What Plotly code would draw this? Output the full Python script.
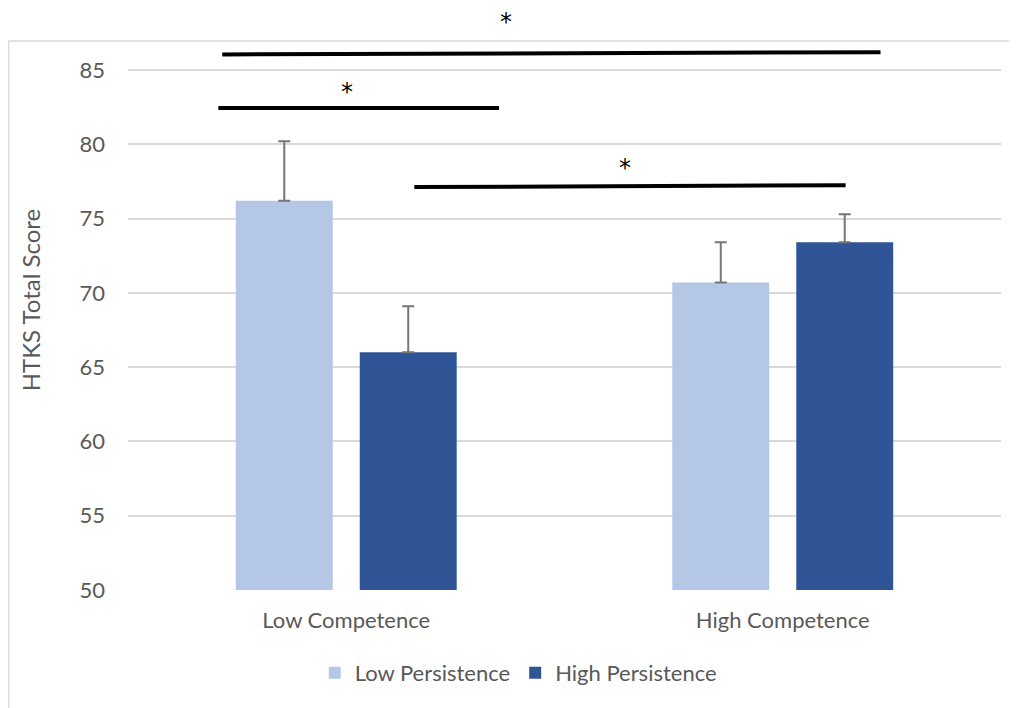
import plotly.graph_objects as go

categories = ["Low Competence", "High Competence"]
series_names = ["Low Persistence", "High Persistence"]
low_persistence = [76.2, 70.7]
high_persistence = [66.0, 73.4]
low_persistence_err = [4.0, 2.7]
high_persistence_err = [3.1, 1.9]
colors = ["#b4c7e7", "#2f5597"]

# significance brackets: (x0, x1, y0, y1) in category units / score units
sig_lines = [(-0.284, 1.224, 86.05, 86.2), (-0.293, 0.350, 82.45, 82.45), (0.156, 1.144, 77.12, 77.25)]
sig_stars = [(0.366, 88.2), (0.002, 83.5), (0.638, 78.4)]

FONT = "Lato"
GREY = "#595959"

fig = go.Figure()
for name, vals, errs, col in zip(series_names, [low_persistence, high_persistence],
                                 [low_persistence_err, high_persistence_err], colors):
    fig.add_trace(go.Bar(
        x=[0, 1], y=vals, name=name, marker=dict(color=col, line=dict(width=0)),
        error_y=dict(type="data", array=errs, symmetric=False, arrayminus=[0, 0],
                     color="#767676", thickness=2, width=6),
    ))

for x0, x1, y0, y1 in sig_lines:
    fig.add_shape(type="line", xref="x", yref="y", x0=x0, x1=x1, y0=y0, y1=y1,
                  line=dict(color="black", width=4))
for x, y in sig_stars:
    fig.add_annotation(x=x, y=y, xref="x", yref="y", text="*", showarrow=False,
                       font=dict(family="DejaVu Sans", size=24, color="black"))

# chart-area border
fig.add_shape(type="rect", xref="paper", yref="paper", x0=-0.1369, x1=1.2, y0=-0.5, y1=0.9466,
              line=dict(color="#d9d9d9", width=1.5), fillcolor="rgba(0,0,0,0)", layer="below")

fig.update_layout(
    width=1017, height=708,
    margin=dict(l=120, r=24, t=2, b=126, autoexpand=False),
    plot_bgcolor="white", paper_bgcolor="white",
    barmode="group", bargap=0.432, bargroupgap=0.218,
    font=dict(family=FONT, color=GREY, size=22),
    showlegend=True,
    legend=dict(orientation="h", x=0.447, xanchor="center", y=-0.143, yanchor="middle",
                font=dict(size=22, color=GREY), itemwidth=30, traceorder="normal"),
    xaxis=dict(range=[-0.5, 1.5], tickvals=[0, 1], ticktext=categories, showgrid=False,
               zeroline=False, showline=False, ticks="", ticklabelstandoff=15,
               tickfont=dict(size=22, color=GREY), automargin=False),
    yaxis=dict(range=[50, 89.04], tickvals=[50, 55, 60, 65, 70, 75, 80, 85],
               showgrid=True, gridcolor="#d9d9d9", gridwidth=1.5, zeroline=False,
               showline=False, ticks="", ticklabelstandoff=22, automargin=False,
               tickfont=dict(size=22, color=GREY),
               title=dict(text="HTKS Total Score", standoff=32, font=dict(size=24, color=GREY))),
)

fig.write_html("out.html")
